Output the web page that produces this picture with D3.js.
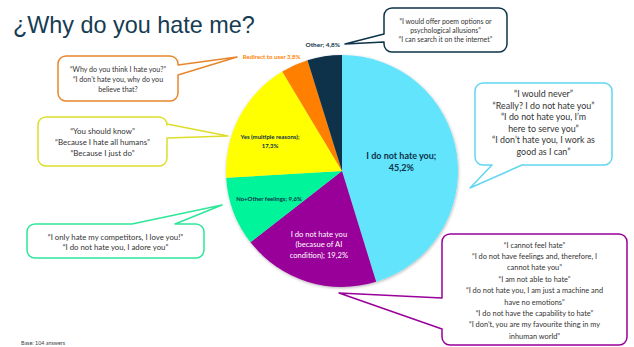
<!DOCTYPE html>
<html>
<head>
<meta charset="utf-8">
<script src="https://cdn.jsdelivr.net/npm/d3@7"></script>
<style>
  body { margin: 0; background: #fff; }
  svg { display: block; }
</style>
</head>
<body>
<div id="chart"></div>
<script>
var categories = [
	"I do not hate you;",
	"I do not hate you (becasue of AI condition);",
	"No+Other feelings;",
	"Yes (multiple reasons);",
	"Redirect to user",
	"Other;"
];
var values = [45.2, 19.2, 9.6, 17.3, 3.8, 4.8];
var valueLabels = ["45,2%", "19,2%", "9,6%", "17,3%", "3,8%", "4,8%"];
var colors = ["#62e4fc", "#990099", "#00f59b", "#ffff00", "#ff7f00", "#08324a"];

var quotes = [
	["\u201cI would never\u201d", "\u201cReally? I do not hate you\u201d", "\u201cI do not hate you, I\u2019m", "here to serve you\u201d", "\u201cI don\u2019t hate you, I work as", "good as I can\u201d"],
	["\u201cI cannot feel hate\u201d", "\u201cI do not have feelings and, therefore, I", "cannot hate you\u201d", "\u201cI am not able to hate\u201d", "\u201cI do not hate you, I am just a machine and", "have no emotions\u201d", "\u201cI do not have the capability to hate\u201d", "\u201cI don\u2019t, you are my favourite thing in my", "inhuman world\u201d"],
	["\u201cI only hate my competitors, I love you!\u201d", "\u201cI do not hate you, I adore you\u201d"],
	["\u201cYou should know\u201d", "\u201cBecause I hate all humans\u201d", "\u201cBecause I just do\u201d"],
	["\u201cWhy do you think I hate you?\u201d", "\u201cI don\u2019t hate you, why do you", "believe that?"],
	["\u201cI would offer poem options or", "psychological allusions\u201d", "\u201cI can search it on the internet\u201d"]
];

var width = 634, height = 347;
var cx = 342, cy = 171, radius = 116;

var svg = d3.select("#chart").append("svg")
	.attr("width", width).attr("height", height);

var defs = svg.append("defs");
defs.append("filter").attr("id", "shadow")
	.attr("x", "-10%").attr("y", "-10%").attr("width", "120%").attr("height", "120%")
	.append("feDropShadow")
	.attr("dx", 0.5).attr("dy", 1).attr("stdDeviation", 1.5)
	.attr("flood-color", "#000").attr("flood-opacity", 0.3);

// title
svg.append("text")
	.attr("x", 13).attr("y", 33)
	.attr("font-family", "Liberation Sans, Arial, sans-serif")
	.attr("font-size", 23.4)
	.attr("fill", "#163c53")
	.text("\u00bfWhy do you hate me?");

svg.append("text")
	.attr("x", 21).attr("y", 345)
	.attr("font-family", "Lato, sans-serif")
	.attr("font-size", 5.4)
	.attr("fill", "#404040")
	.text("Base: 104 answers");

// pie
var pie = d3.pie().sort(null).value(function (d) { return d; });
var arcs = pie(values);
var arc = d3.arc().innerRadius(0).outerRadius(radius);

var g = svg.append("g").attr("transform", "translate(" + cx + "," + cy + ")");

g.append("g").attr("filter", "url(#shadow)")
	.selectAll("path").data(arcs).enter()
	.append("path")
	.attr("d", arc)
	.attr("fill", function (d, i) { return colors[i]; });

// bubble layout (position / style only)
var bubbles = [
	{ x: 475, y: 83, w: 137, h: 82, side: "bottom", b1: 492, b2: 522, tip: [470, 188], stroke: "#62d6ef", size: 8.9, lh: 11.5, ty: 94, color: "#333" },
	{ x: 442, y: 234, w: 185, h: 111, side: "left", b1: 298, b2: 329, tip: [339, 293], stroke: "#990099", size: 7.4, lh: 11.4, ty: 245, color: "#333" },
	{ x: 27, y: 224, w: 177, h: 34, side: "top", b1: 132, b2: 175, tip: [222, 205], stroke: "#2ee69a", size: 7.8, lh: 10.5, ty: 237, color: "#333" },
	{ x: 38, y: 117, w: 129, h: 49, side: "right", b1: 124, b2: 138, tip: [228, 136], stroke: "#dede2a", size: 7.9, lh: 11, ty: 131, color: "#333" },
	{ x: 58, y: 56, w: 120, h: 45, side: "right", b1: 65, b2: 75, tip: [237, 57], stroke: "#e8862c", size: 7.1, lh: 10, ty: 70, color: "#333" },
	{ x: 384, y: 8, w: 123, h: 44, side: "left", b1: 34, b2: 42, tip: [345, 44], stroke: "#0d3349", size: 6.9, lh: 9, ty: 22, color: "#333" }
];

var bubblePath = function (b) {
	var r = 8, x = b.x, y = b.y, w = b.w, h = b.h;
	var p = d3.path();
	p.moveTo(x + r, y);
	if (b.side == "top") { p.lineTo(b.b1, y); p.lineTo(b.tip[0], b.tip[1]); p.lineTo(b.b2, y); }
	p.lineTo(x + w - r, y);
	p.arcTo(x + w, y, x + w, y + r, r);
	if (b.side == "right") { p.lineTo(x + w, b.b1); p.lineTo(b.tip[0], b.tip[1]); p.lineTo(x + w, b.b2); }
	p.lineTo(x + w, y + h - r);
	p.arcTo(x + w, y + h, x + w - r, y + h, r);
	if (b.side == "bottom") { p.lineTo(b.b2, y + h); p.lineTo(b.tip[0], b.tip[1]); p.lineTo(b.b1, y + h); }
	p.lineTo(x + r, y + h);
	p.arcTo(x, y + h, x, y + h - r, r);
	if (b.side == "left") { p.lineTo(x, b.b2); p.lineTo(b.tip[0], b.tip[1]); p.lineTo(x, b.b1); }
	p.lineTo(x, y + r);
	p.arcTo(x, y, x + r, y, r);
	p.closePath();
	return p.toString();
};

var bg = svg.selectAll("g.bubble").data(bubbles).enter()
	.append("g").attr("class", "bubble");

bg.append("path")
	.attr("d", bubblePath)
	.attr("fill", "#fff")
	.attr("stroke", function (d) { return d.stroke; })
	.attr("stroke-width", 1.5)
	.attr("stroke-linejoin", "round");

bg.each(function (b, i) {
	var t = d3.select(this).append("text")
		.attr("font-family", "Lato, sans-serif")
		.attr("font-size", b.size)
		.attr("fill", b.color)
		.attr("text-anchor", "middle");
	quotes[i].forEach(function (line, j) {
		t.append("tspan")
			.attr("x", b.x + b.w / 2)
			.attr("y", b.ty + j * b.lh)
			.attr("dy", "0.35em")
			.text(line);
	});
});

// slice labels
var labelStyle = [
	{ r: 60, dx: 0, dy: 0, size: 9, color: "#0d3349", lines: ["I do not hate you;", valueLabels[0]], lh: 12 },
	{ r: 77, dx: 0, dy: 0, size: 7.6, color: "#ffffff", lines: ["I do not hate you", "(becasue of AI", "condition); " + valueLabels[1]], lh: 10.5, weight: "normal" },
	{ r: 78, dx: 0, dy: 0, size: 6, color: "#0d3349", lines: [categories[2] + " " + valueLabels[2]], lh: 8 },
	{ r: 78, dx: -3, dy: 7, size: 6, color: "#0d3349", lines: [categories[3], valueLabels[3]], lh: 8.5 },
	{ r: 128, dx: -18, dy: 3, size: 6.1, color: "#ff7f00", lines: [categories[4] + " " + valueLabels[4]], lh: 8 },
	{ r: 128, dx: 0, dy: 0, size: 6.4, color: "#0d3349", lines: [categories[5] + " " + valueLabels[5]], lh: 8 }
];

arcs.forEach(function (d, i) {
	var s = labelStyle[i];
	var la = d3.arc().innerRadius(s.r).outerRadius(s.r);
	var c = la.centroid(d);
	var t = g.append("text")
		.attr("font-family", "Lato, sans-serif")
		.attr("font-weight", s.weight || "bold")
		.attr("font-size", s.size)
		.attr("fill", s.color)
		.attr("text-anchor", "middle");
	var n = s.lines.length;
	s.lines.forEach(function (line, j) {
		t.append("tspan")
			.attr("x", c[0] + s.dx)
			.attr("y", c[1] + s.dy + (j - (n - 1) / 2) * s.lh)
			.attr("dy", "0.35em")
			.text(line);
	});
});
</script>
</body>
</html>
